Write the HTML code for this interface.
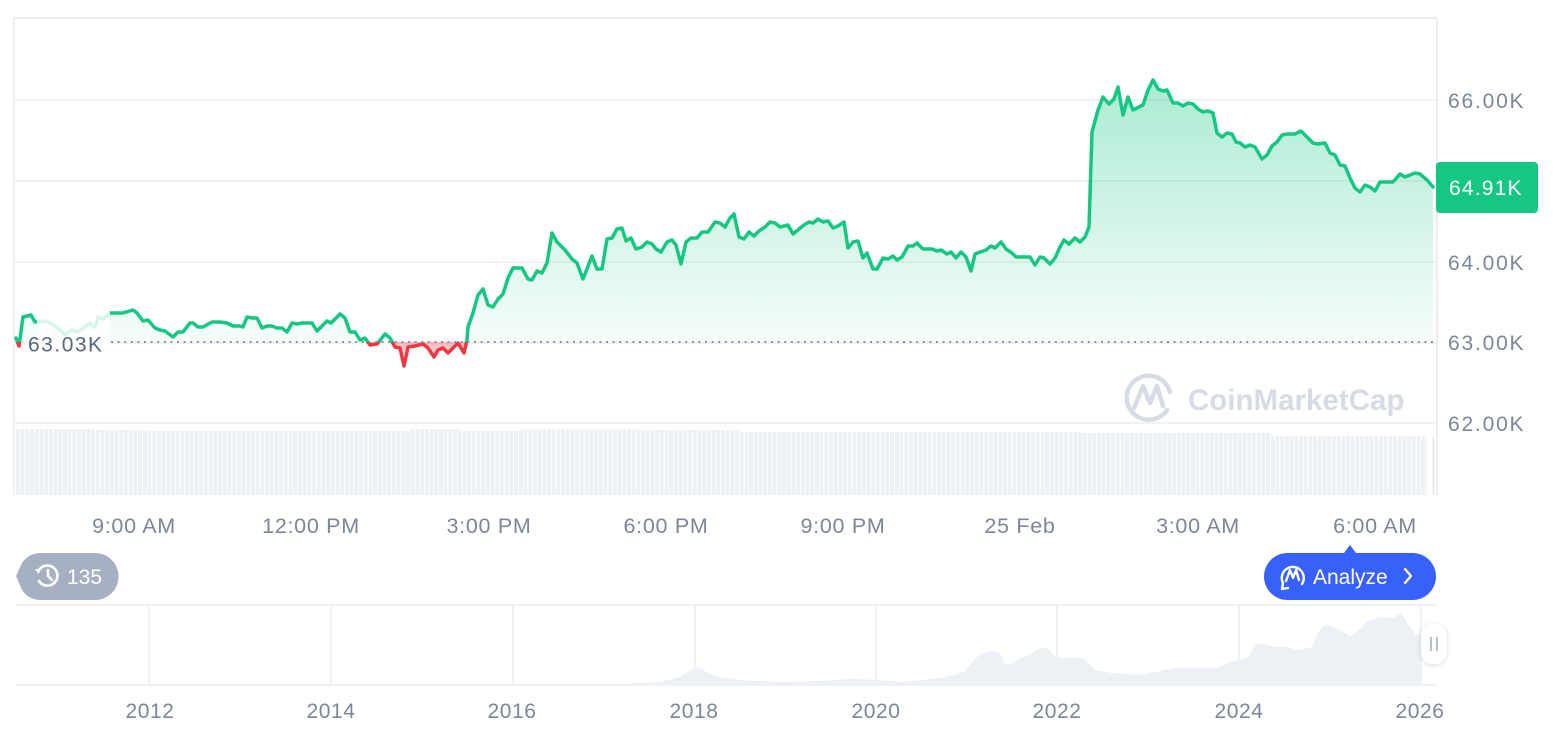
<!DOCTYPE html>
<html><head><meta charset="utf-8">
<style>
html,body{margin:0;padding:0;background:#fff;}
body{width:1566px;height:732px;overflow:hidden;}
svg{display:block;font-family:"Liberation Sans",sans-serif;}
</style></head>
<body>
<svg width="1566" height="732" viewBox="0 0 1566 732" xmlns="http://www.w3.org/2000/svg">
<defs>
  <linearGradient id="gfill" gradientUnits="userSpaceOnUse" x1="0" y1="80" x2="0" y2="342">
    <stop offset="0" stop-color="#16c784" stop-opacity="0.36"/>
    <stop offset="1" stop-color="#16c784" stop-opacity="0.04"/>
  </linearGradient>
  <linearGradient id="rfill" gradientUnits="userSpaceOnUse" x1="0" y1="342" x2="0" y2="368">
    <stop offset="0" stop-color="#ea3943" stop-opacity="0.35"/>
    <stop offset="1" stop-color="#ea3943" stop-opacity="0.12"/>
  </linearGradient>
  <clipPath id="above"><rect x="0" y="0" width="1566" height="342"/></clipPath>
  <clipPath id="below"><rect x="0" y="342" width="1566" height="200"/></clipPath>
  <pattern id="vb" patternUnits="userSpaceOnUse" width="4.7" height="200" x="16" y="0">
    <rect x="0" y="0" width="3.8" height="200" fill="#edf0f4"/>
  </pattern>
  <filter id="sh" x="-50%" y="-50%" width="200%" height="200%">
    <feDropShadow dx="0" dy="1" stdDeviation="2.5" flood-color="#000" flood-opacity="0.15"/>
  </filter>
  <polygon id="fillpoly" points="16,338 19,346 23,317 31,315 35,322 45,321 50,323 58,328 65,335 72,330 78,332 90,323 95,327 98,317 103,319 110,313 115,313 123,313 133,310 137,313 143,321 148,320 155,328 160,330 165,331 173,337 178,332 183,332 190,323 193,323 198,327 203,327 212,322 220,322 227,323 233,326 240,326 243,327 247,317 252,318 257,318 262,328 267,326 272,326 277,328 282,328 287,332 292,323 297,324 302,323 312,323 317,331 322,326 327,321 331,323 340,314 345,318 350,332 355,332 360,340 365,338 370,345 377,344 385,334 390,338 395,347 400,348 404,366 408,347 415,346 423,344 428,348 434,357 438,350 443,348 448,353 453,348 458,343 464,353 467,340 468,327 473,313 478,295 483,289 488,305 493,307 498,299 503,294 508,278 513,268 522,268 528,279 532,280 537,271 542,273 547,263 552,233 557,242 565,250 572,259 577,263 583,279 592,256 597,269 602,269 607,239 612,238 617,229 622,228 626,241 631,238 636,249 642,247 647,242 652,244 656,249 661,252 667,242 672,240 676,245 681,264 686,242 691,238 697,238 702,232 708,232 715,222 720,223 725,227 730,218 734,214 739,237 744,239 749,232 754,236 759,231 765,227 770,222 775,223 780,227 788,225 793,234 799,229 804,225 809,222 813,223 818,219 823,222 828,221 833,228 838,226 844,222 848,248 853,242 858,241 863,258 867,253 873,269 877,269 883,258 888,259 893,256 897,260 902,257 908,246 913,246 917,243 923,249 932,249 937,251 941,250 947,254 951,252 956,258 961,252 966,257 971,271 975,254 980,252 986,250 991,246 995,248 1001,242 1006,249 1012,253 1016,257 1022,257 1030,257 1035,265 1040,257 1044,258 1050,264 1055,258 1060,247 1064,240 1069,244 1075,238 1080,242 1085,237 1089,227 1092,132 1098,110 1103,97 1109,104 1114,99 1118,87 1123,115 1128,97 1133,110 1143,105 1148,90 1153,80 1158,89 1163,91 1167,90 1173,103 1178,103 1183,106 1188,103 1193,104 1198,109 1203,112 1208,111 1213,113 1217,133 1222,137 1227,133 1232,134 1236,142 1240,143 1245,147 1250,145 1255,147 1262,159 1267,155 1272,146 1277,142 1282,135 1287,134 1295,134 1301,131 1307,137 1313,143 1318,144 1325,143 1330,153 1335,155 1340,165 1345,166 1350,178 1355,188 1360,192 1365,185 1370,187 1375,191 1380,182 1393,182 1400,174 1405,177 1415,173 1420,174 1427,180 1433,187 1433,342 16,342"/>
  <polyline id="pl" fill="none" stroke-width="3.5" stroke-linejoin="round" stroke-linecap="round" points="16,338 19,346 23,317 31,315 35,322 45,321 50,323 58,328 65,335 72,330 78,332 90,323 95,327 98,317 103,319 110,313 115,313 123,313 133,310 137,313 143,321 148,320 155,328 160,330 165,331 173,337 178,332 183,332 190,323 193,323 198,327 203,327 212,322 220,322 227,323 233,326 240,326 243,327 247,317 252,318 257,318 262,328 267,326 272,326 277,328 282,328 287,332 292,323 297,324 302,323 312,323 317,331 322,326 327,321 331,323 340,314 345,318 350,332 355,332 360,340 365,338 370,345 377,344 385,334 390,338 395,347 400,348 404,366 408,347 415,346 423,344 428,348 434,357 438,350 443,348 448,353 453,348 458,343 464,353 467,340 468,327 473,313 478,295 483,289 488,305 493,307 498,299 503,294 508,278 513,268 522,268 528,279 532,280 537,271 542,273 547,263 552,233 557,242 565,250 572,259 577,263 583,279 592,256 597,269 602,269 607,239 612,238 617,229 622,228 626,241 631,238 636,249 642,247 647,242 652,244 656,249 661,252 667,242 672,240 676,245 681,264 686,242 691,238 697,238 702,232 708,232 715,222 720,223 725,227 730,218 734,214 739,237 744,239 749,232 754,236 759,231 765,227 770,222 775,223 780,227 788,225 793,234 799,229 804,225 809,222 813,223 818,219 823,222 828,221 833,228 838,226 844,222 848,248 853,242 858,241 863,258 867,253 873,269 877,269 883,258 888,259 893,256 897,260 902,257 908,246 913,246 917,243 923,249 932,249 937,251 941,250 947,254 951,252 956,258 961,252 966,257 971,271 975,254 980,252 986,250 991,246 995,248 1001,242 1006,249 1012,253 1016,257 1022,257 1030,257 1035,265 1040,257 1044,258 1050,264 1055,258 1060,247 1064,240 1069,244 1075,238 1080,242 1085,237 1089,227 1092,132 1098,110 1103,97 1109,104 1114,99 1118,87 1123,115 1128,97 1133,110 1143,105 1148,90 1153,80 1158,89 1163,91 1167,90 1173,103 1178,103 1183,106 1188,103 1193,104 1198,109 1203,112 1208,111 1213,113 1217,133 1222,137 1227,133 1232,134 1236,142 1240,143 1245,147 1250,145 1255,147 1262,159 1267,155 1272,146 1277,142 1282,135 1287,134 1295,134 1301,131 1307,137 1313,143 1318,144 1325,143 1330,153 1335,155 1340,165 1345,166 1350,178 1355,188 1360,192 1365,185 1370,187 1375,191 1380,182 1393,182 1400,174 1405,177 1415,173 1420,174 1427,180 1433,187"/>
</defs>

<!-- frame -->
<line x1="14" y1="18" x2="1437" y2="18" stroke="#eceef2" stroke-width="2"/>
<line x1="14" y1="18" x2="14" y2="495" stroke="#eceef2" stroke-width="2"/>
<line x1="1437" y1="18" x2="1437" y2="495" stroke="#eceef2" stroke-width="2"/>

<!-- gridlines -->
<g stroke="#eceef2" stroke-width="1.6">
  <line x1="14" y1="100" x2="1437" y2="100"/>
  <line x1="14" y1="181" x2="1437" y2="181"/>
  <line x1="14" y1="262" x2="1437" y2="262"/>
  <line x1="14" y1="343" x2="1437" y2="343"/>
  <line x1="14" y1="423" x2="1437" y2="423"/>
</g>

<!-- volume bars -->
<g fill="url(#vb)">
  <rect x="16" y="429" width="74" height="66"/>
  <rect x="90" y="430" width="60" height="65"/>
  <rect x="150" y="431" width="260" height="64"/>
  <rect x="410" y="429" width="50" height="66"/>
  <rect x="460" y="431" width="60" height="64"/>
  <rect x="520" y="429.5" width="120" height="65.5"/>
  <rect x="640" y="430" width="100" height="65"/>
  <rect x="740" y="432" width="340" height="63"/>
  <rect x="1080" y="433" width="190" height="62"/>
  <rect x="1270" y="436" width="157" height="59"/>
</g>
<rect x="1432" y="437" width="3" height="58" fill="#edf0f4"/>

<!-- watermark -->
<g fill="none" stroke="#d7dce4" stroke-width="4.5" stroke-linecap="round" stroke-linejoin="round">
  <path d="M1167 410 A22 22 0 1 1 1170 392"/>
  <path d="M1134 408 L1143 386 L1150 403 L1157 386 L1163 406"/>
</g>
<text x="1188" y="410" font-size="29.5" font-weight="bold" fill="#d7dce4">CoinMarketCap</text>

<!-- area fills -->
<use href="#fillpoly" clip-path="url(#above)" fill="url(#gfill)"/>
<use href="#fillpoly" clip-path="url(#below)" fill="url(#rfill)"/>

<!-- line -->
<use href="#pl" clip-path="url(#above)" stroke="#16c784"/>
<use href="#pl" clip-path="url(#below)" stroke="#ea3943"/>

<!-- label fade box -->
<rect x="37" y="302" width="73" height="54" fill="#fff" opacity="0.82"/>

<!-- dotted baseline -->
<line x1="111" y1="342" x2="1437" y2="342" stroke="#8a93a4" stroke-width="2" stroke-dasharray="2 4.6"/>
<text x="28" y="351.5" font-size="21" fill="#58667e" letter-spacing="1.5">63.03K</text>

<!-- y axis labels -->
<g font-size="21" fill="#7d8699" letter-spacing="1.8">
  <text x="1448" y="108">66.00K</text>
  <text x="1448" y="270">64.00K</text>
  <text x="1448" y="350">63.00K</text>
  <text x="1448" y="431">62.00K</text>
</g>

<!-- price tag -->
<rect x="1436" y="162" width="102" height="51" rx="4" fill="#16c784"/>
<text x="1449" y="195" font-size="21" fill="#fff" letter-spacing="1.2">64.91K</text>

<!-- time labels -->
<g font-size="21.5" fill="#7d8699" text-anchor="middle" letter-spacing="0.7">
  <text x="134" y="533">9:00 AM</text>
  <text x="311" y="533">12:00 PM</text>
  <text x="489" y="533">3:00 PM</text>
  <text x="666" y="533">6:00 PM</text>
  <text x="843" y="533">9:00 PM</text>
  <text x="1020" y="533">25 Feb</text>
  <text x="1198" y="533">3:00 AM</text>
  <text x="1375" y="533">6:00 AM</text>
</g>

<!-- history badge -->
<path d="M40 553 H95 A23.5 23.5 0 0 1 95 600 H40 A22 22 0 0 1 22 590 L16 576 L22 563 A22 22 0 0 1 40 553 Z" fill="#a6b0c3"/>
<g fill="none" stroke="#fff" stroke-width="2.6" stroke-linecap="round" stroke-linejoin="round">
  <path d="M38.5 571 A10 10 0 1 1 39 581"/>
  <path d="M48 570 V576 L52 580"/>
</g>
<path d="M35 569 L41 569 L38.5 574 Z" fill="#fff"/>
<text x="67" y="584" font-size="21" fill="#fff">135</text>

<!-- analyze button -->
<path d="M1344 553 L1350 545 L1356 553 Z" fill="#3861fb"/>
<rect x="1264" y="553" width="172" height="47" rx="23.5" fill="#3861fb"/>
<g fill="none" stroke="#fff" stroke-width="2.4" stroke-linecap="round" stroke-linejoin="round">
  <path d="M1302 584 A11 11 0 1 0 1283 583 L1282 589 L1288 588"/>
  <path d="M1286 581 L1290 570 L1293 578 L1296 570 L1299 580"/>
  <path d="M1405 569 L1411 576 L1405 583"/>
</g>
<text x="1313" y="584" font-size="21" fill="#fff">Analyze</text>

<!-- navigator -->
<g stroke="#eceef2" stroke-width="1.6">
  <line x1="16" y1="605" x2="1436" y2="605"/>
  <line x1="16" y1="685" x2="1436" y2="685"/>
  <line x1="149" y1="605" x2="149" y2="685"/>
  <line x1="331" y1="605" x2="331" y2="685"/>
  <line x1="513" y1="605" x2="513" y2="685"/>
  <line x1="695" y1="605" x2="695" y2="685"/>
  <line x1="876" y1="605" x2="876" y2="685"/>
  <line x1="1057" y1="605" x2="1057" y2="685"/>
  <line x1="1239" y1="605" x2="1239" y2="685"/>
  <line x1="1421" y1="605" x2="1421" y2="685"/>
</g>
<polygon fill="#edf0f4" points="16,685 560,685 620,684 660,682 680,677 690,670 698,667 705,671 715,676 740,680 780,682 820,681 850,679 880,680 900,682 942,678 964,672 970,665 979,655 989,651 1000,653 1004,663 1010,665 1023,657 1030,655 1036,650 1047,647 1055,657 1066,658 1083,658 1095,670 1112,673 1138,675 1155,672 1176,668 1197,668 1219,668 1227,663 1240,660 1248,658 1255,645 1261,643 1274,647 1287,647 1299,650 1312,647 1318,633 1325,625 1333,627 1344,632 1350,637 1359,630 1367,622 1380,617 1393,618 1401,613 1410,627 1416,635 1422,633 1422,685"/>
<rect x="1421" y="624" width="26" height="40" rx="12" fill="#fff" filter="url(#sh)"/>
<g stroke="#a6b0c3" stroke-width="1.6">
  <line x1="1431" y1="637" x2="1431" y2="651"/>
  <line x1="1437" y1="637" x2="1437" y2="651"/>
</g>

<g font-size="21" fill="#7d8699" text-anchor="middle" letter-spacing="0.6">
  <text x="150" y="718">2012</text>
  <text x="331" y="718">2014</text>
  <text x="512" y="718">2016</text>
  <text x="694" y="718">2018</text>
  <text x="876" y="718">2020</text>
  <text x="1057" y="718">2022</text>
  <text x="1239" y="718">2024</text>
  <text x="1420" y="718">2026</text>
</g>
</svg>
</body></html>
